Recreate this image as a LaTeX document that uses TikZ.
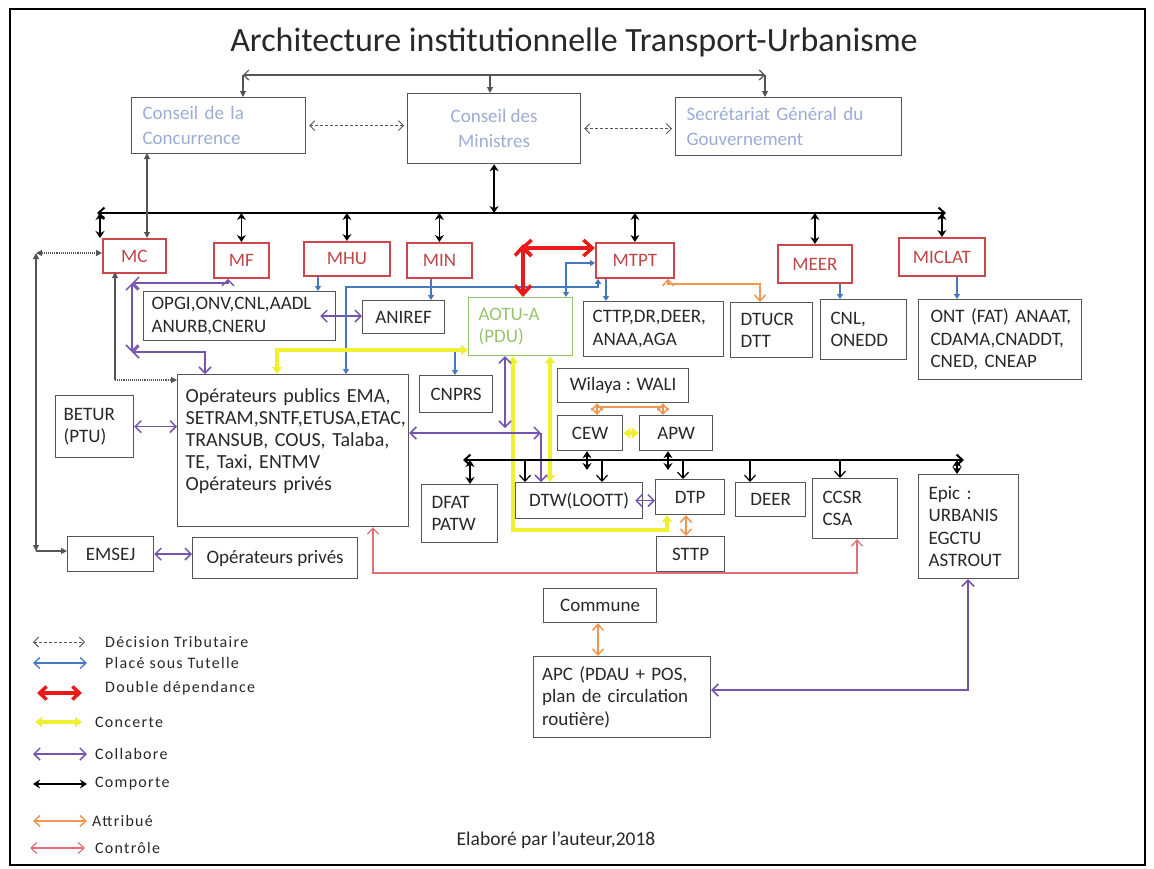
\documentclass[tikz,border=0pt]{standalone}
\usepackage{fontspec}
\setmainfont{Carlito}
\newfontfamily\legfam[LetterSpace=8]{Carlito}
\usetikzlibrary{arrows.meta}
\definecolor{tblue}{RGB}{155,172,212}
\definecolor{minred}{RGB}{205,70,75}
\definecolor{mintext}{RGB}{190,70,70}
\definecolor{aogreen}{RGB}{150,195,110}
\definecolor{tutblue}{RGB}{70,120,190}
\definecolor{colpurple}{RGB}{115,85,175}
\definecolor{concyel}{RGB}{240,240,50}
\definecolor{attrorange}{RGB}{240,150,80}
\definecolor{ctrlred}{RGB}{225,110,120}
\definecolor{ddred}{RGB}{235,25,25}
\definecolor{boxgray}{RGB}{85,85,85}
\definecolor{txt}{RGB}{40,40,40}
\newcommand\bodyf{\fontsize{19}{22.5}\selectfont}
\newcommand\opf{\fontsize{20}{22}\selectfont}
\newcommand\topf{\fontsize{19}{25}\selectfont}
\newcommand\minf{\fontsize{19}{22}\selectfont}
\newcommand\legf{\legfam\fontsize{16}{18}\selectfont}
\tikzset{
 bx/.style={draw=boxgray,line width=1.2pt,rectangle,inner sep=0pt,anchor=north west,font=\bodyf,text=txt},
 lbx/.style={bx,align=left},
 tbox/.style={bx,font=\topf,text=tblue,align=left},
 minb/.style={bx,draw=minred,line width=1.8pt,text=mintext,font=\minf},
 gline/.style={draw=boxgray,line width=1.1pt},
 tri/.style={>={Triangle[length=6pt,width=6pt]}},
 barb/.style={>={Straight Barb[length=5pt,width=10pt]}},
 decis/.style={draw=boxgray,line width=0.9pt,dash pattern=on 3pt off 2pt,>={Straight Barb[length=5pt,width=10pt]}},
 busst/.style={draw=black,line width=2pt,>={Straight Barb[length=6pt,width=11pt]}},
 comp/.style={draw=black,line width=1.6pt,>={Stealth[length=7pt,width=9pt]}},
 down/.style={draw=black,line width=1.2pt,>={Straight Barb[length=6pt,width=11pt]}},
 tut/.style={draw=tutblue,line width=1.3pt,>={Triangle[length=5pt,width=6pt]}},
 collab/.style={draw=colpurple,line width=1.5pt,>={Straight Barb[length=6pt,width=12pt]}},
 conc/.style={draw=concyel,line width=4pt,>={Triangle[length=7pt,width=10pt]}},
 attr/.style={draw=attrorange,line width=1.5pt,>={Straight Barb[length=6pt,width=11pt]}},
 ctrl/.style={draw=ctrlred,line width=1.2pt,>={Straight Barb[length=6pt,width=11pt]}},
 dd/.style={draw=ddred,line width=3.5pt,>={Straight Barb[length=9pt,width=16pt]}},
 legtext/.style={anchor=west,font=\legf,text=txt,inner sep=0pt},
}
\begin{document}
\begin{tikzpicture}[x=1pt,y=-1pt]
\useasboundingbox (0,0) rectangle (1154,868);
\draw[line width=1.5pt] (10,9) rectangle (1145,865);

% title
\node[font=\fontsize{34}{38}\selectfont,text=txt] (title) at (574,42) {Architecture institutionnelle Transport-Urbanisme};

% top boxes
\node[tbox,minimum width=174pt,minimum height=56pt,text width=152pt] (CC) at (131,97) {\mbox{Conseil de la}\\Concurrence};
\node[tbox,minimum width=173pt,minimum height=70pt,align=center] (CM) at (407,93) {Conseil des\\Ministres};
\node[tbox,minimum width=226pt,minimum height=58pt,text width=204pt] (SGG) at (675,97) {\mbox{Secrétariat Général du}\\Gouvernement};

% ministries
\node[minb,minimum width=63pt,minimum height=34pt] (MC) at (102,238) {MC};
\node[minb,minimum width=55pt,minimum height=35pt] (MF) at (213,242) {MF};
\node[minb,minimum width=86pt,minimum height=34pt] (MHU) at (303,241) {MHU};
\node[minb,minimum width=65pt,minimum height=35pt] (MIN) at (406,242) {MIN};
\node[minb,minimum width=78pt,minimum height=35pt] (MTPT) at (595,242) {MTPT};
\node[minb,minimum width=74pt,minimum height=38pt] (MEER) at (777,244) {MEER};
\node[minb,minimum width=86pt,minimum height=38pt] (MICLAT) at (898,237) {MICLAT};

% second row
\node[lbx,minimum width=192pt,minimum height=49pt,text width=176pt] (OPGI) at (143,291) {OPGI,ONV,CNL,AADL\\ANURB,CNERU};
\node[bx,minimum width=82pt,minimum height=33pt] (ANIREF) at (362,300) {ANIREF};
\node[lbx,draw=aogreen,text=aogreen,minimum width=104pt,minimum height=58pt,text width=84pt] (AOTU) at (468,297) {AOTU-A\\(PDU)};
\node[lbx,minimum width=140pt,minimum height=55pt,text width=122pt] (CTTP) at (583,301) {CTTP,DR,DEER,\\ANAA,AGA};
\node[lbx,minimum width=82pt,minimum height=55pt,text width=62pt] (DTUCR) at (730,302) {DTUCR\\DTT};
\node[lbx,minimum width=86pt,minimum height=60pt,text width=66pt] (CNL) at (820,299) {CNL,\\ONEDD};
\node[lbx,minimum width=163pt,minimum height=80pt,text width=139pt] (ONT) at (918,299) {\mbox{ONT (FAT) ANAAT,}\\CDAMA,CNADDT,\\\mbox{CNED, CNEAP}};

% operators etc.
\node[lbx,font=\opf,minimum width=231pt,minimum height=152pt,text width=215pt] (OP) at (177,374) {\mbox{Opérateurs publics EMA,}\\SETRAM,SNTF,ETUSA,ETAC,\\\mbox{TRANSUB, COUS, Talaba,}\\\mbox{TE, Taxi, ENTMV}\\\mbox{Opérateurs privés}\\\mbox{}};
\node[lbx,minimum width=78pt,minimum height=62pt,text width=62pt] (BETUR) at (55,395) {BETUR\\(PTU)};
\node[bx,minimum width=73pt,minimum height=37pt] (CNPRS) at (419,375) {CNPRS};
\node[bx,minimum width=131pt,minimum height=34pt] (Wil) at (557,368) {Wilaya : WALI};
\node[bx,minimum width=65pt,minimum height=35pt] (CEW) at (557,415) {CEW};
\node[bx,minimum width=73pt,minimum height=35pt] (APW) at (639,415) {APW};
\node[bx,minimum width=86pt,minimum height=35pt] (EMSEJ) at (67,536) {EMSEJ};
\node[bx,minimum width=165pt,minimum height=41pt] (OPP) at (192,537) {Opérateurs privés};
\node[lbx,minimum width=76pt,minimum height=58pt,text width=56pt] (DFAT) at (421,484) {DFAT\\PATW};
\node[bx,minimum width=127pt,minimum height=36pt] (DTW) at (515,482) {DTW(LOOTT)};
\node[bx,minimum width=69pt,minimum height=35pt] (DTP) at (655,479) {DTP};
\node[bx,minimum width=68pt,minimum height=35pt] (STTP) at (656,536) {STTP};
\node[bx,minimum width=70pt,minimum height=34pt] (DEER) at (735,482) {DEER};
\node[lbx,minimum width=85pt,minimum height=60pt,text width=65pt] (CCSR) at (812,478) {CCSR\\CSA};
\node[lbx,minimum width=100pt,minimum height=104pt,text width=80pt] (Epic) at (918,474) {Epic :\\URBANIS\\EGCTU\\ASTROUT};
\node[bx,minimum width=113pt,minimum height=34pt] (Com) at (543,588) {Commune};
\node[lbx,minimum width=177pt,minimum height=81pt,text width=160pt] (APC) at (533,656) {\mbox{APC (PDAU + POS,}\\\mbox{plan de circulation}\\routière)};

\node[font=\fontsize{19.5}{22}\selectfont,text=txt] (foot) at (556,840) {Elaboré par l'auteur,2018};

% ---- top connectors
\coordinate (t1) at (243,75);
\coordinate (t2) at (490,75);
\coordinate (t3) at (765,75);
\draw[gline,barb,<->] (t1) -- (t3);
\draw[gline,tri,->] (t1) -- (t1 |- CC.north);
\draw[gline,tri,->] (t2) -- (t2 |- CM.north);
\draw[gline,tri,->] (t3) -- (t3 |- SGG.north);
\draw[decis,<->] ([xshift=3pt]CC.east) -- ([xshift=-3pt]CC.east -| CM.west);
\draw[decis,<->] ([xshift=3pt]CM.east) -- ([xshift=-3pt]CM.east -| SGG.west);

% ---- main bus
\coordinate (busL) at (97,213);
\coordinate (busR) at (946,213);
\draw[busst,<->] (busL) -- (busR);
\draw[comp,<->] (CM.south) -- (CM.south |- busL);
\coordinate (mcA) at (100,213);
\draw[comp,<->] (mcA) -- (mcA |- MC.north);
\foreach \n in {MF,MHU,MIN,MTPT,MEER,MICLAT}
  \draw[comp,<->] (\n.north |- busL) -- (\n.north);

% CC - MC
\coordinate (k1) at (147,153);
\draw[gline,tri,<->] (k1) -- (k1 |- MC.north);

% ---- left system
\coordinate (L1) at (36,253);
\coordinate (L2) at (36,551);
\draw[gline,tri,<->,densely dotted] (L1) -- (L1 -| MC.west);
\draw[gline,tri,<->] (L1) -- (L2);
\draw[gline,tri,->] (L2) -- (L2 -| EMSEJ.west);
\coordinate (m1) at (115,272);
\coordinate (m2) at (115,380);
\draw[gline,tri,<-] (m1) -- (m2);
\draw[gline,tri,->,densely dotted] (m2) -- (m2 -| OP.west);

% ---- purple near MC
\coordinate (p1) at (132,283);
\coordinate (p2) at (132,352);
\coordinate (p3) at (228,283);
\coordinate (p4) at (205,352);
\draw[collab,<->] (p1) -- (p3) -- (p3 |- MF.south);
\draw[collab,<->] (p1) -- (p2);
\draw[collab,<->] (p2) -- (p4) -- (p4 |- OP.north);
\draw[collab,<->] ([xshift=-16pt]OPGI.east) -- (OPGI.east -| ANIREF.west);

% ---- blue (tutelle)
\draw[tut,->] (318,0 |- MHU.south) -- (318,0 |- OPGI.north);
\draw[tut,->] (431,0 |- MIN.south) -- (431,0 |- ANIREF.north);
\coordinate (b1) at (598,287);
\coordinate (b2) at (346,287);
\draw[tut,<->] (b1 |- MTPT.south) -- (b1) -- (b2) -- (b2 |- OP.north);
\coordinate (b3) at (566,263);
\draw[tut,<->] (b3 |- AOTU.north) -- (b3) -- (b3 -| MTPT.west);
\draw[tut,->] (606,0 |- MTPT.south) -- (606,0 |- CTTP.north);
\coordinate (b4) at (455,352);
\draw[tut,->] (b4) -- (b4 |- CNPRS.north);
\draw[tut,->] (840,0 |- MEER.south) -- (840,0 |- CNL.north);
\draw[tut,->] (957,0 |- MICLAT.south) -- (957,0 |- ONT.north);

% ---- double dependance
\coordinate (r1) at (523,248);
\draw[dd,<->] ([yshift=4pt]r1) -- (r1 |- AOTU.north);
\draw[dd,<->] ([xshift=-3pt]r1) -- (r1 -| MTPT.west);

% ---- orange
\coordinate (o1) at (760,284);
\draw[attr,<->] (668,0 |- MTPT.south) |- (o1) -- (o1 |- DTUCR.north);
\coordinate (w1) at (597,407);
\coordinate (w2) at (663,407);
\draw[attr,<->] (w1 |- Wil.south) -- (w1 |- CEW.north);
\draw[attr,<->] (w2 |- Wil.south) -- (w2 |- APW.north);
\draw[attr] (w1) -- (w2);
\draw[attr,<->] (686,0 |- DTP.south) -- (686,0 |- STTP.north);
\draw[attr,<->] (598,0 |- Com.south) -- (598,0 |- APC.north);

% ---- purple left
\draw[collab,<->] (BETUR.east) -- (BETUR.east -| OP.west);
\draw[collab,<->] (EMSEJ.east) -- (EMSEJ.east -| OPP.west);

% ---- control
\coordinate (c1) at (373,573);
\coordinate (c2) at (857,573);
\draw[ctrl,<->] (c1 |- OP.south) -- (c1) -- (c2) -- (c2 |- CCSR.south);

% ---- yellow
\coordinate (y1) at (277,350);
\draw[conc,<->] (y1 |- OP.north) -- (y1) -- (y1 -| AOTU.west);
\coordinate (y2) at (513,530);
\coordinate (y3) at (667,530);
\draw[conc,<->] (y2 |- AOTU.south) -- (y2) -- (y3) -- (y3 |- DTP.south);
\draw[conc,<->] (550,0 |- AOTU.south) -- (550,0 |- DTW.north);
\draw[conc,<->] (CEW.east) -- (CEW.east -| APW.west);

% ---- purple AOTU / OP / DTW
\draw[collab,<->] (505,0 |- AOTU.south) -- (505,428);
\coordinate (q1) at (541,433);
\draw[collab,<->] (q1 -| OP.east) -- (q1);
\draw[collab,->] (q1) -- (q1 |- DTW.north);
\draw[collab,<->] ([xshift=-8pt]DTW.east) -- (DTW.east -| DTP.west);

% ---- second bus
\coordinate (B2L) at (463,460);
\coordinate (B2R) at (964,460);
\draw[busst,<->] (B2L) -- (B2R);
\draw[comp,<->] (587,0 |- CEW.south) -- (587,470);
\draw[comp,<->] (668,0 |- APW.south) -- (668,470);
\draw[comp,<->] (470,0 |- B2L) -- (470,0 |- DFAT.north);
\draw[down,->] (525,0 |- B2L) -- (525,0 |- DTW.north);
\draw[down,->] (602,0 |- B2L) -- (602,0 |- DTW.north);
\draw[down,->] (683,0 |- B2L) -- (683,0 |- DTP.north);
\draw[down,->] (750,0 |- B2L) -- (750,0 |- DEER.north);
\draw[down,->] (840,0 |- B2L) -- (840,0 |- CCSR.north);
\draw[comp,<->] (957,0 |- B2L) -- (957,0 |- Epic.north);

% ---- Epic - APC
\coordinate (e1) at (968,690);
\draw[collab,<->] (e1 |- Epic.south) -- (e1) -- (e1 -| APC.east);

% ---- legend
\coordinate (la1) at (33,642); \coordinate (la2) at (85,642);
\draw[decis,<->] (la1) -- (la2);
\node[legtext] (lt1) at (105,642) {Décision Tributaire};
\coordinate (lb1) at (33,663); \coordinate (lb2) at (87,663);
\draw[tut,>={Straight Barb[length=6pt,width=11pt]},<->] (lb1) -- (lb2);
\node[legtext] (lt2) at (105,663) {Placé sous Tutelle};
\coordinate (lc1) at (37,693); \coordinate (lc2) at (82,693);
\draw[dd,>={Straight Barb[length=7pt,width=13pt]},<->] (lc1) -- (lc2);
\node[legtext] (lt3) at (105,688) {Double dépendance};
\coordinate (ld1) at (35,722); \coordinate (ld2) at (82,722);
\draw[conc,<->] (ld1) -- (ld2);
\node[legtext] (lt4) at (95,722) {Concerte};
\coordinate (le1) at (33,754); \coordinate (le2) at (87,754);
\draw[collab,<->] (le1) -- (le2);
\node[legtext] (lt5) at (95,754) {Collabore};
\coordinate (lf1) at (33,784); \coordinate (lf2) at (87,784);
\draw[comp,<->] (lf1) -- (lf2);
\node[legtext] (lt6) at (95,784) {Comporte};
\coordinate (lg1) at (33,821); \coordinate (lg2) at (87,821);
\draw[attr,<->] (lg1) -- (lg2);
\node[legtext] (lt7) at (92,821) {Attribué};
\coordinate (lh1) at (30,848); \coordinate (lh2) at (85,848);
\draw[ctrl,<->] (lh1) -- (lh2);
\node[legtext] (lt8) at (95,848) {Contrôle};
\end{tikzpicture}
\end{document}
